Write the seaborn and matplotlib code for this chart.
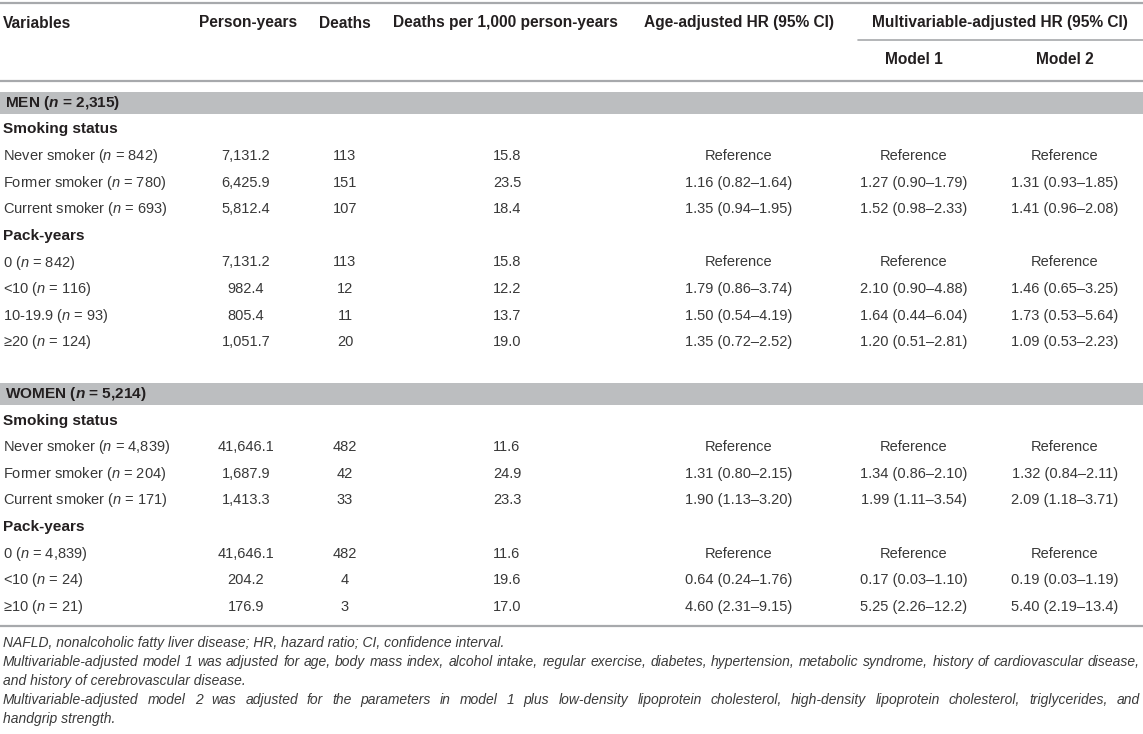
import matplotlib
matplotlib.use("Agg")
import matplotlib.pyplot as plt
import seaborn as sns

# DADOS DA TABELA
col_headers = ["Variables", "Person-years", "Deaths", "Deaths per 1,000 person-years",
               "Age-adjusted HR (95% CI)", "Multivariable-adjusted HR (95% CI)"]
model_headers = ["Model 1", "Model 2"]

sexes = ["MEN", "WOMEN"]
sex_n = ["2,315", "5,214"]
group_names = ["Smoking status", "Pack-years"]

# homens
men_smoke_labels = ["Never smoker", "Former smoker", "Current smoker"]
men_smoke_n = ["842", "780", "693"]
men_pack_labels = ["0", "<10", "10-19.9", "\u226520"]
men_pack_n = ["842", "116", "93", "124"]
men_person_years = ["7,131.2", "6,425.9", "5,812.4", "7,131.2", "982.4", "805.4", "1,051.7"]
men_deaths = ["113", "151", "107", "113", "12", "11", "20"]
men_rate = ["15.8", "23.5", "18.4", "15.8", "12.2", "13.7", "19.0"]
men_age_hr = ["Reference", "1.16 (0.82\u20131.64)", "1.35 (0.94\u20131.95)",
              "Reference", "1.79 (0.86\u20133.74)", "1.50 (0.54\u20134.19)", "1.35 (0.72\u20132.52)"]
men_model1 = ["Reference", "1.27 (0.90\u20131.79)", "1.52 (0.98\u20132.33)",
              "Reference", "2.10 (0.90\u20134.88)", "1.64 (0.44\u20136.04)", "1.20 (0.51\u20132.81)"]
men_model2 = ["Reference", "1.31 (0.93\u20131.85)", "1.41 (0.96\u20132.08)",
              "Reference", "1.46 (0.65\u20133.25)", "1.73 (0.53\u20135.64)", "1.09 (0.53\u20132.23)"]

# mulheres
women_smoke_labels = ["Never smoker", "Former smoker", "Current smoker"]
women_smoke_n = ["4,839", "204", "171"]
women_pack_labels = ["0", "<10", "\u226510"]
women_pack_n = ["4,839", "24", "21"]
women_person_years = ["41,646.1", "1,687.9", "1,413.3", "41,646.1", "204.2", "176.9"]
women_deaths = ["482", "42", "33", "482", "4", "3"]
women_rate = ["11.6", "24.9", "23.3", "11.6", "19.6", "17.0"]
women_age_hr = ["Reference", "1.31 (0.80\u20132.15)", "1.90 (1.13\u20133.20)",
                "Reference", "0.64 (0.24\u20131.76)", "4.60 (2.31\u20139.15)"]
women_model1 = ["Reference", "1.34 (0.86\u20132.10)", "1.99 (1.11\u20133.54)",
                "Reference", "0.17 (0.03\u20131.10)", "5.25 (2.26\u201312.2)"]
women_model2 = ["Reference", "1.32 (0.84\u20132.11)", "2.09 (1.18\u20133.71)",
                "Reference", "0.19 (0.03\u20131.19)", "5.40 (2.19\u201313.4)"]

footnotes = [
    "NAFLD, nonalcoholic fatty liver disease; HR, hazard ratio; CI, confidence interval.",
    "Multivariable-adjusted model 1 was adjusted for age, body mass index, alcohol intake, regular exercise, diabetes, hypertension, metabolic syndrome, history of cardiovascular disease,",
    "and history of cerebrovascular disease.",
    "Multivariable-adjusted model 2 was adjusted for the parameters in model 1 plus low-density lipoprotein cholesterol, high-density lipoprotein cholesterol, triglycerides, and",
    "handgrip strength.",
]
justify_lines = [False, True, False, True, False]

# ESTILO
sns.set_theme(style="white")
plt.rcParams['font.family'] = ['Liberation Sans', 'DejaVu Sans']
plt.rcParams['mathtext.fontset'] = 'custom'
plt.rcParams['mathtext.rm'] = 'Liberation Sans'
plt.rcParams['mathtext.it'] = 'Liberation Sans:italic'
plt.rcParams['mathtext.bf'] = 'Liberation Sans:bold'
plt.rcParams['mathtext.bfit'] = 'Liberation Sans:italic:bold'

W, H = 1143, 734
DARK = "#231f20"
BODY = "#383838"
LINE = "#a7a9ac"
BAND = "#bcbec0"
FS = 10.5        # dados
FS_HEAD = 11.2   # cabeçalho
FS_GROUP = 11.1  # subtítulos
FS_FOOT = 10.0   # notas

fig = plt.figure(figsize=(W / 100, H / 100), dpi=100)
ax = fig.add_axes([0, 0, 1, 1])
ax.set_xlim(0, W)
ax.set_ylim(H, 0)
ax.axis("off")

# posições das colunas (centro dos dados)
x_label = 3
x_cols = [246, 345, 507, 739, 914, 1065]
x_head_left = [199, 319, 393]

# CABEÇALHO
ax.axhline(3, color=LINE, lw=1.6)
ax.text(x_label, 23, col_headers[0], fontsize=FS_HEAD, fontweight="bold", color=DARK, va="center")
for xl, h in zip(x_head_left, col_headers[1:4]):
    ax.text(xl, 23, h, fontsize=FS_HEAD, fontweight="bold", color=DARK, va="center")
ax.text(x_cols[3], 23, col_headers[4], fontsize=FS_HEAD, fontweight="bold", color=DARK,
        va="center", ha="center")
ax.text(1000, 23, col_headers[5], fontsize=FS_HEAD, fontweight="bold", color=DARK,
        va="center", ha="center")
ax.plot([858, W], [40, 40], color=LINE, lw=1.2)
for xc, h in zip(x_cols[4:], model_headers):
    ax.text(xc, 60, h, fontsize=FS_HEAD, fontweight="bold", color=DARK, va="center", ha="center")
ax.axhline(81, color=LINE, lw=1.6)

PITCH = 26.6


def draw_block(y_band, sex, n, smoke_labels, smoke_n, pack_labels, pack_n, columns):
    ax.add_patch(plt.Rectangle((0, y_band - 11), W, 22, color=BAND, lw=0))
    ax.text(x_label + 2, y_band, sex + r" ($\mathbfit{n}$ = " + n + ")", fontsize=FS_GROUP,
            fontweight="bold", color=DARK, va="center")
    y = y_band + 26.5
    labels = []
    for g, labs, ns in [(group_names[0], smoke_labels, smoke_n), (group_names[1], pack_labels, pack_n)]:
        ax.text(x_label, y, g, fontsize=FS_GROUP, fontweight="bold", color=DARK, va="center")
        y += PITCH
        for lab, nn in zip(labs, ns):
            labels.append((y, lab + r" ($\mathit{n}$ = " + nn + ")"))
            y += PITCH
    for i, (yy, lab) in enumerate(labels):
        ax.text(x_label, yy, lab, fontsize=FS, color=BODY, va="center")
        for xc, col in zip(x_cols, columns):
            ax.text(xc, yy, col[i], fontsize=FS, color=BODY, va="center", ha="center")


draw_block(103, sexes[0], sex_n[0], men_smoke_labels, men_smoke_n, men_pack_labels, men_pack_n,
           [men_person_years, men_deaths, men_rate, men_age_hr, men_model1, men_model2])
draw_block(394, sexes[1], sex_n[1], women_smoke_labels, women_smoke_n, women_pack_labels, women_pack_n,
           [women_person_years, women_deaths, women_rate, women_age_hr, women_model1, women_model2])

ax.axhline(626, color=LINE, lw=1.6)

# NOTAS DE RODAPÉ (linhas 2 e 4 justificadas)
foot_kw = dict(fontsize=FS_FOOT, style="italic", color="#3a3a3a", va="center")
renderer = fig.canvas.get_renderer()
x_right = 1140
y_foot = 643
for line, just in zip(footnotes, justify_lines):
    if not just:
        ax.text(x_label, y_foot, line, **foot_kw)
    else:
        words = line.split()
        arts = [ax.text(0, y_foot, w, **foot_kw) for w in words]
        widths = [a.get_window_extent(renderer).width for a in arts]
        gap = (x_right - x_label - sum(widths)) / (len(words) - 1)
        x = x_label
        for a, w in zip(arts, widths):
            a.set_x(x)
            x += w + gap
    y_foot += 18.9

fig.savefig("out.png", dpi=100)
